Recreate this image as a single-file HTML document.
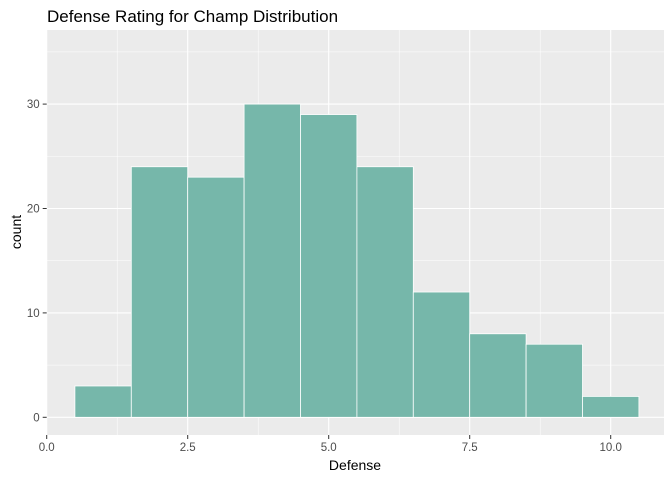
<!DOCTYPE html>
<html><head><meta charset="utf-8"><style>body{margin:0;background:#fff}svg{display:block;font-family:"Liberation Sans",Arial,sans-serif}</style></head>
<body>
<svg id="c" width="672" height="480">
<text x="47" y="22" font-size="17" fill="#000">Defense Rating for Champ Distribution</text>
<rect x="46.7" y="30" width="617.3" height="405" fill="#ebebeb"/>
<g id="grid"></g><g id="bars"></g><g id="axes"></g>
<text x="355" y="470" font-size="14" text-anchor="middle">Defense</text>
<text transform="translate(21,232) rotate(-90)" font-size="14" text-anchor="middle">count</text>
</svg>
<script>
const binCenters=[1,2,3,4,5,6,7,8,9,10];
const counts=[3,24,23,30,29,24,12,8,7,2];
const xTicks=[0,2.5,5,7.5,10];
const xTickLabels=["0.0","2.5","5.0","7.5","10.0"];
const yTicks=[0,10,20,30];
const NS="http://www.w3.org/2000/svg";
const L=46.7,R=664,T=30,B=435;
const sx=v=>L+v*56.4, sy=v=>417.3-v*10.44;
function mk(p,t,a){const e=document.createElementNS(NS,t);for(const k in a)e.setAttribute(k,a[k]);document.getElementById(p).appendChild(e);return e;}
for(let i=0;i<xTicks.length;i++){
  const x=sx(xTicks[i]);
  const g=mk('grid','line',{x1:x,x2:x,y1:T,y2:B,stroke:'#fff','stroke-width':1.1});
  
  if(i<xTicks.length-1){const m=sx((xTicks[i]+xTicks[i+1])/2);const g2=mk('grid','line',{x1:m,x2:m,y1:T,y2:B,stroke:'#fff','stroke-width':0.5});
  }
  const tk=mk('axes','line',{x1:x,x2:x,y1:B,y2:B+4,stroke:'#333'});
  
  const t=mk('axes','text',{x:x,y:B+16,'font-size':11.5,fill:'#4d4d4d','text-anchor':'middle'});t.textContent=xTickLabels[i];
  
}
{const m=sx(11.25);}
for(let i=0;i<yTicks.length;i++){
  const y=sy(yTicks[i]);
  const g=mk('grid','line',{x1:L,x2:R,y1:y,y2:y,stroke:'#fff','stroke-width':1.1});
  
  const m=sy(yTicks[i]+5);
  const g2=mk('grid','line',{x1:L,x2:R,y1:m,y2:m,stroke:'#fff','stroke-width':0.5});
  
  const tk=mk('axes','line',{x1:L-4,x2:L,y1:y,y2:y,stroke:'#333'});
  
  const t=mk('axes','text',{x:L-7,y:y+4,'font-size':11.5,fill:'#4d4d4d','text-anchor':'end'});t.textContent=yTicks[i];
  
}
for(let i=0;i<binCenters.length;i++){
  const x0=sx(binCenters[i]-0.5),x1=sx(binCenters[i]+0.5),y=sy(counts[i]);
  const r=mk('bars','rect',{x:x0,y:y,width:x1-x0,height:sy(0)-y,fill:'#76b7aa',stroke:'#fff','stroke-width':0.8});
  
}
</script>
</body></html>
